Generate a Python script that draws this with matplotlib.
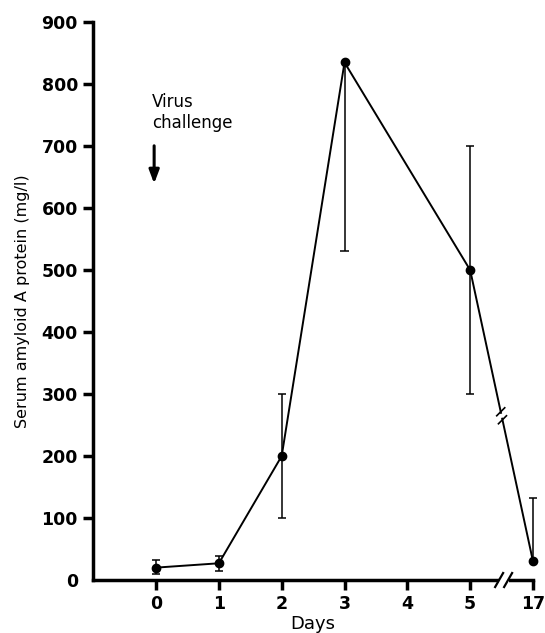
import numpy as np
import matplotlib.pyplot as plt
from matplotlib.patches import Rectangle

# Data
days = ['0', '1', '2', '3', '4', '5', '17']
day_pos = [0, 1, 2, 3, 5, 6]          # position on the (broken) axis
saa = [20, 27, 200, 835, 500, 30]     # mg/l
err_low = [11, 12, 100, 305, 200, 0]
err_high = [12, 12, 100, 0, 200, 103]

plt.rcParams['font.family'] = 'DejaVu Sans'
plt.rcParams['font.weight'] = 'bold'

fig = plt.figure(figsize=(5.45, 6.33), dpi=100)
ax = fig.add_axes([0.171, 0.0837, 0.807, 0.8813])

# Barras de error (solo los lados dibujados en el original)
saa_a = np.array(saa)
lo = saa_a - np.array(err_low)
hi = saa_a + np.array(err_high)
ax.vlines(day_pos, lo, hi, color='black', lw=1.1, clip_on=False)
cap = 0.065
for x, e, y in zip(day_pos, err_low, lo):
    if e > 0:
        ax.hlines(y, x - cap, x + cap, color='black', lw=1.1, clip_on=False)
for x, e, y in zip(day_pos, err_high, hi):
    if e > 0:
        ax.hlines(y, x - cap, x + cap, color='black', lw=1.1, clip_on=False)

ax.plot(day_pos, saa, color='black', lw=1.4, marker='o', ms=6, zorder=3,
        clip_on=False)

# Formato de ejes
ax.set_xlim(-1, 6)
ax.set_ylim(0, 900)
ax.set_xticks(range(len(days)))
ax.set_xticklabels(days)
ax.set_yticks(np.arange(0, 901, 100))
ax.spines['top'].set_visible(False)
ax.spines['right'].set_visible(False)
ax.spines['left'].set_linewidth(2.5)
ax.spines['bottom'].set_linewidth(2.5)
ax.tick_params(axis='both', direction='out', width=2.5, length=7,
               labelsize=12.5, pad=4)
ax.yaxis.get_major_ticks()[0].tick1line.set_visible(False)

ax.set_ylabel('Serum amyloid A protein (mg/l)', fontsize=11.5,
              labelpad=8)
ax.set_xlabel('Days', fontsize=13, labelpad=1)

# pixel -> data units
px_x = 7.0 / 440
px_y = 900.0 / 558

# Corte del eje x
xb = 5.54
trans = ax.get_xaxis_transform()
ax.add_patch(Rectangle((xb - 5 * px_x, -0.01), 10 * px_x, 0.02, transform=trans,
                       facecolor='white', edgecolor='none', clip_on=False, zorder=5))
for dx in [-5, 4]:
    ax.plot([xb + (dx - 4) * px_x, xb + (dx + 4) * px_x], [-7 * px_y, 7 * px_y],
            color='black', lw=1.6, clip_on=False, zorder=6)

# Corte de la linea de datos
xm = 5.5
ym = 500 + (30 - 500) * (xm - 5)
ax.plot([xm - 0.4 * px_x, xm + 0.4 * px_x], [ym + 2 * px_y, ym - 2 * px_y],
        color='white', lw=4, zorder=5, solid_capstyle='butt')
for dy in [4, -4]:
    yc = ym + dy * px_y
    xc = 5 + (500 - yc) / 470
    ax.plot([xc - 4 * px_x, xc + 4 * px_x], [yc - 4 * px_y, yc + 4 * px_y],
            color='black', lw=1.2, zorder=6)

# Virus challenge
ax.text(-0.06, 785, 'Virus\nchallenge', fontsize=12, fontweight='normal',
        va='top', ha='left', linespacing=1.15)
ax.annotate('', xy=(-0.03, 635), xytext=(-0.03, 705),
            arrowprops=dict(arrowstyle='-|>,head_width=0.3,head_length=0.8',
                            color='black', lw=2.2))

plt.savefig('out.png', dpi=100)
plt.close()
